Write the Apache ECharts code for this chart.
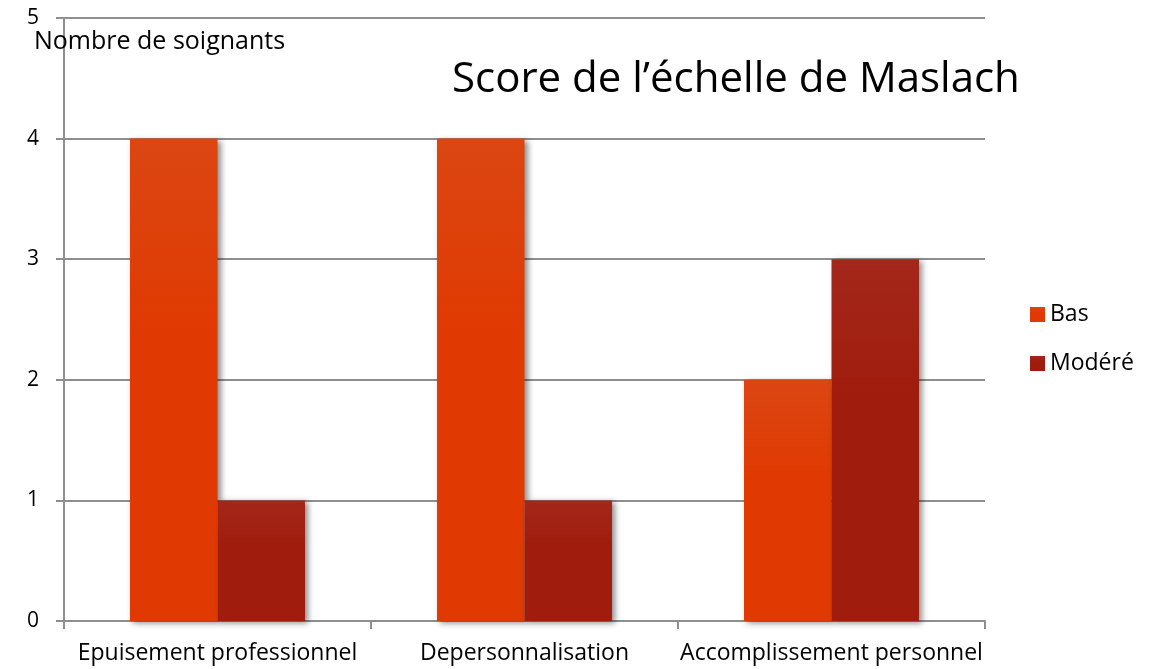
<!DOCTYPE html>
<html>
<head>
<meta charset="utf-8">
<script src="https://cdn.jsdelivr.net/npm/echarts@6/dist/echarts.min.js"></script>
<style>
  html, body { margin: 0; padding: 0; background: #fff; }
  #chart { width: 1158px; height: 669px; }
</style>
</head>
<body>
<div id="chart"></div>
<script>
const categories = ['Epuisement professionnel', 'Depersonnalisation', 'Accomplissement personnel']
const bas = [4, 4, 2]
const modere = [1, 1, 3]
const yTicks = [0, 1, 2, 3, 4, 5]

const font = 'Open Sans'
const gridGray = '#8e8e8e'

function barColor(top, bottom) {
  return new echarts.graphic.LinearGradient(0, 0, 0, 1, [
    { offset: 0, color: top },
    { offset: 0.4, color: bottom },
    { offset: 1, color: bottom },
  ])
}

const chart = echarts.init(document.getElementById('chart'))
chart.setOption({
  animation: false,
  title: [
    {
      text: 'Score de l\u2019échelle de Maslach',
      left: 447,
      top: 54,
      textStyle: { fontFamily: font, fontSize: 42, fontWeight: 'normal', color: '#000' },
    },
    {
      text: 'Nombre de soignants',
      left: 29,
      top: 24,
      textStyle: { fontFamily: font, fontSize: 25, fontWeight: 'normal', color: '#000' },
    },
  ],
  legend: {
    orient: 'vertical',
    left: 1025,
    top: 298,
    itemWidth: 15,
    itemHeight: 15,
    itemGap: 26,
    icon: 'rect',
    textStyle: { fontFamily: font, fontSize: 23, color: '#000' },
    data: ['Bas', 'Modéré'],
  },
  grid: { left: 64, right: 173, top: 18, bottom: 48 },
  xAxis: {
    type: 'category',
    data: categories,
    axisLine: { lineStyle: { color: gridGray, width: 2 } },
    axisTick: { show: true, length: 8, lineStyle: { color: gridGray, width: 2 } },
    axisLabel: { fontFamily: font, fontSize: 23, color: '#000', margin: 21, interval: 0 },
  },
  yAxis: {
    type: 'value',
    min: yTicks[0],
    max: yTicks[yTicks.length - 1],
    interval: 1,
    axisLine: { show: true, lineStyle: { color: gridGray, width: 2 } },
    axisTick: { show: true, length: 8, lineStyle: { color: gridGray, width: 2 } },
    splitLine: { lineStyle: { color: gridGray, width: 2 } },
    axisLabel: { fontFamily: font, fontSize: 21, color: '#000', margin: 25 },
  },
  series: [
    {
      name: 'Bas',
      type: 'bar',
      data: bas,
      barGap: 0,
      barCategoryGap: '43%',
      itemStyle: {
        color: barColor('#db4612', '#e03a02'),
        shadowColor: 'rgba(0,0,0,0.45)',
        shadowBlur: 6,
        shadowOffsetX: 3,
        shadowOffsetY: 2,
      },
    },
    {
      name: 'Modéré',
      type: 'bar',
      data: modere,
      barGap: 0,
      barCategoryGap: '43%',
      itemStyle: {
        color: barColor('#a3271a', '#a01c0c'),
        shadowColor: 'rgba(0,0,0,0.45)',
        shadowBlur: 6,
        shadowOffsetX: 3,
        shadowOffsetY: 2,
      },
    },
  ],
})
</script>
</body>
</html>
